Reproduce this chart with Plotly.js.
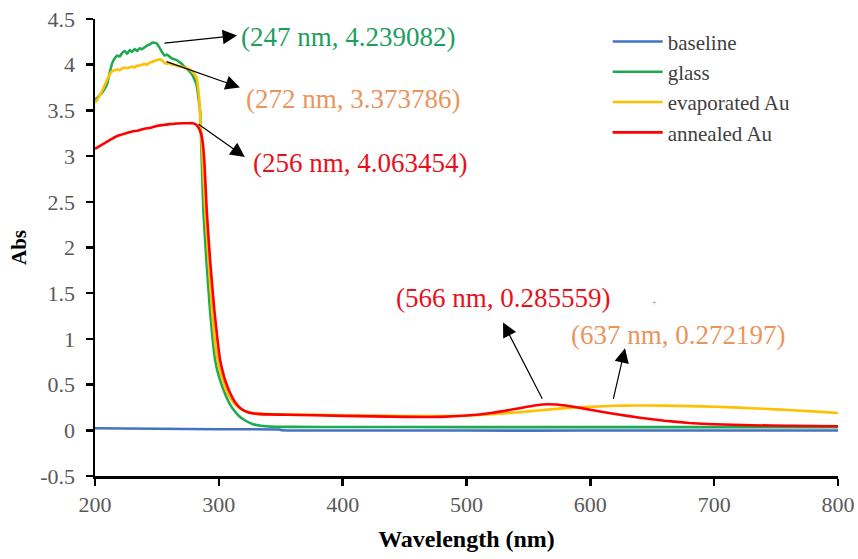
<!DOCTYPE html>
<html>
<head>
<meta charset="utf-8">
<script src="https://cdn.plot.ly/plotly-3.0.1.min.js"></script>
<style>html,body{margin:0;padding:0;background:#fff;}#chart{width:858px;height:559px;}</style>
</head>
<body>
<div id="chart"></div>
<script>
// ---- data ----
const seriesNames = ["baseline", "glass", "evaporated Au", "annealed Au"];

const baselineWl  = [200, 250, 300, 349, 351, 400, 500, 600, 700, 800];
const baselineAbs = [0.022, 0.017, 0.012, 0.008, 0.0, -0.002, -0.003, -0.003, -0.002, -0.002];

const glassWl  = [200,202,204,206,208,210,212,214,216,218,220,222,224,226,228,230,232,234,236,238,240,242,244,246,248,250,252,254,256,258,260,262,264,266,268,270,272,274,276,278,280,282,284.8,286,287.5,290,292.9,295,297,299,301,305,308,311,316,321,327,334,342,360,400,500,600,700,800];
const glassAbs = [3.62,3.64,3.67,3.70,3.74,3.80,3.92,4.02,4.07,4.10,4.09,4.13,4.15,4.12,4.16,4.14,4.17,4.15,4.18,4.17,4.19,4.21,4.22,4.24,4.24,4.23,4.19,4.14,4.10,4.11,4.09,4.07,4.06,4.05,4.03,4.01,3.98,3.96,3.93,3.90,3.85,3.78,3.5,3.05,2.41,1.85,1.31,1.0,0.77,0.64,0.55,0.40,0.31,0.24,0.16,0.11,0.07,0.05,0.04,0.037,0.036,0.035,0.035,0.035,0.035];

const evapWl  = [200,202,204,206,208,210,212,214,216,218,220,222,224,226,228,230,232,234,236,238,240,242,244,246,248,250,252,254,256,258,260,262,264,266,268,270,272,274,276,278,280,282,284,285.6,287,289,292,294.5,297,299,301,303,307,310,314,320,327,335,345,360,400,450,480,500,520,540,560,580,600,620,637,660,680,700,720,740,760,780,800];
const evapAbs = [3.58,3.62,3.67,3.72,3.78,3.84,3.90,3.93,3.94,3.95,3.94,3.96,3.97,3.96,3.97,3.98,3.97,3.99,3.99,4.00,4.01,4.00,4.02,4.03,4.04,4.05,4.06,4.05,4.02,4.01,4.02,4.00,4.00,3.99,3.98,3.98,3.97,3.96,3.95,3.93,3.90,3.86,3.65,3.28,2.95,2.41,1.8,1.31,0.95,0.77,0.65,0.55,0.41,0.34,0.27,0.215,0.19,0.18,0.176,0.172,0.165,0.157,0.155,0.16,0.175,0.195,0.22,0.243,0.258,0.268,0.272,0.27,0.265,0.258,0.248,0.235,0.222,0.207,0.19];

const annealWl  = [200,205,210,215,220,225,230,235,240,245,250,255,260,265,270,275,279,282,284,285.6,287,288.5,290.2,293,296.4,299,301,303,305,309,313,318,324,331,340,355,400,450,480,500,520,540,555,566,580,590,600,620,640,660,680,700,730,760,800];
const annealAbs = [3.08,3.12,3.16,3.20,3.23,3.25,3.27,3.28,3.30,3.31,3.33,3.34,3.35,3.355,3.36,3.36,3.36,3.34,3.30,3.25,3.15,2.9,2.41,1.85,1.31,0.98,0.77,0.65,0.55,0.41,0.31,0.235,0.195,0.18,0.174,0.17,0.158,0.147,0.147,0.162,0.19,0.235,0.272,0.285,0.272,0.25,0.225,0.178,0.138,0.105,0.08,0.066,0.055,0.05,0.045];

const yTickVals = [-0.5, 0, 0.5, 1, 1.5, 2, 2.5, 3, 3.5, 4, 4.5];
const yTickText = ["-0.5", "0", "0.5", "1", "1.5", "2", "2.5", "3", "3.5", "4", "4.5"];
const xTickVals = [200, 300, 400, 500, 600, 700, 800];

// peak labels: text, colour, text anchor (x,y), arrow tail (on curve), arrow head (at label)
const peakLabels = ["(247 nm, 4.239082)", "(272 nm, 3.373786)", "(256 nm, 4.063454)", "(566 nm, 0.285559)", "(637 nm, 0.272197)"];
const peakLabelX = [316.3, 320.3, 326.0, 441.5, 582.8];
const peakLabelY = [4.30, 3.63, 2.92, 1.444, 1.04];
const arrowTailX = [254.9, 256.5, 282.4, 561.8, 618.3];
const arrowTailY = [4.234, 4.04, 3.36, 0.328, 0.328];
const arrowHeadX = [314.7, 317.0, 321.0, 529.5, 628.0];
const arrowHeadY = [4.32, 3.75, 2.99, 1.18, 0.897];

// ---- styling ----
const colors = ["#4472C4", "#1EAA50", "#FFC000", "#FF0000"];
const labelColors = ["#1E9E5E", "#EA955C", "#E8101A", "#E8101A", "#EA955C"];
const serif = "Liberation Serif";

const xs = [baselineWl, glassWl, evapWl, annealWl];
const ys = [baselineAbs, glassAbs, evapAbs, annealAbs];
const traces = seriesNames.map((n, i) => ({
  type: "scatter", mode: "lines", name: n,
  x: xs[i], y: ys[i],
  line: {color: colors[i], width: 2.6, shape: "spline", smoothing: 0.4}
}));

const annotations = [];
peakLabels.forEach((t, i) => {
  annotations.push({
    x: arrowHeadX[i], y: arrowHeadY[i], xref: "x", yref: "y",
    ax: arrowTailX[i], ay: arrowTailY[i], axref: "x", ayref: "y",
    text: "", showarrow: true, arrowhead: 2, arrowsize: 2.4, arrowwidth: 1.2,
    arrowcolor: "#000", standoff: 0, startstandoff: 0
  });
  annotations.push({
    x: peakLabelX[i], y: peakLabelY[i], xref: "x", yref: "y",
    text: t, showarrow: false, xanchor: "left", yanchor: "middle",
    font: {family: serif, size: 27, color: labelColors[i]}
  });
});
annotations.push({
  x: 652, y: 1.40, xref: "x", yref: "y", text: "+", showarrow: false,
  font: {family: serif, size: 8, color: "#888"}
});

const layout = {
  width: 858, height: 559,
  margin: {l: 95, r: 20, t: 19, b: 83},
  paper_bgcolor: "#fff", plot_bgcolor: "#fff",
  font: {family: serif, size: 22, color: "#595959"},
  showlegend: true,
  legend: {
    x: 0.69, y: 0.995, xanchor: "left", yanchor: "top",
    bgcolor: "rgba(0,0,0,0)", borderwidth: 0,
    font: {family: serif, size: 21, color: "#404040"},
    itemwidth: 50, tracegroupgap: 0
  },
  xaxis: {
    range: [200, 800], tickvals: xTickVals,
    showgrid: false, zeroline: false,
    showline: true, linecolor: "#000", linewidth: 2.5,
    ticks: "outside", ticklen: 7, tickwidth: 2.5, tickcolor: "#000",
    tickfont: {family: serif, size: 22, color: "#595959"},
    title: {text: "<b>Wavelength (nm)</b>", font: {family: serif, size: 24, color: "#000"}, standoff: 15}
  },
  yaxis: {
    range: [-0.5, 4.5], tickvals: yTickVals, ticktext: yTickText,
    showgrid: false, zeroline: false,
    showline: true, linecolor: "#000", linewidth: 2.5,
    ticks: "outside", ticklen: 7, tickwidth: 2.5, tickcolor: "#000",
    ticklabelstandoff: 6,
    tickfont: {family: serif, size: 22, color: "#595959"},
    title: {text: "<b>Abs</b>", font: {family: serif, size: 21, color: "#000"}, standoff: 8}
  },
  annotations: annotations
};

Plotly.newPlot("chart", traces, layout, {staticPlot: true, displayModeBar: false});
</script>
</body>
</html>
